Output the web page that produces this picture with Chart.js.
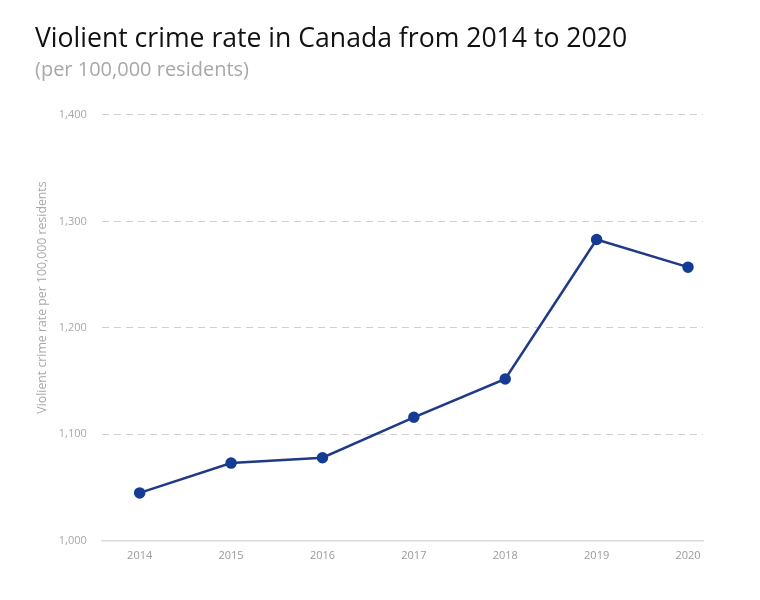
<!DOCTYPE html>
<html>
<head>
<meta charset="utf-8">
<script src="https://cdn.jsdelivr.net/npm/chart.js@4"></script>
<style>
html,body{margin:0;padding:0;background:#fff;}
#wrap{width:760px;height:600px;}
</style>
</head>
<body>
<div id="wrap"><canvas id="c" width="760" height="600"></canvas></div>
<script>
const years = [2014, 2015, 2016, 2017, 2018, 2019, 2020];
const crimeRate = [1045, 1073, 1078, 1116, 1152, 1283, 1257];
const yTicks = [1000, 1100, 1200, 1300, 1400];

const font = "'Open Sans', 'Noto Sans', sans-serif";
const yTitle = 'Violient crime rate per 100,000 residents';

new Chart(document.getElementById('c'), {
  type: 'line',
  data: {
    datasets: [{
      data: years.map((y, i) => ({x: y, y: crimeRate[i]})),
      borderColor: '#1f3b87',
      borderWidth: 2.5,
      pointRadius: 4.5,
      pointBackgroundColor: '#143c94',
      pointBorderColor: '#143c94',
      tension: 0
    }]
  },
  options: {
    responsive: false,
    animation: false,
    layout: {padding: {left: 35, right: 57, top: 23, bottom: 38}},
    plugins: {
      legend: {display: false},
      tooltip: {enabled: false},
      title: {
        display: true,
        text: 'Violient crime rate in Canada from 2014 to 2020',
        align: 'start',
        color: '#111',
        font: {family: font, size: 26.6, weight: 'normal'},
        padding: {top: 0, bottom: 0}
      },
      subtitle: {
        display: true,
        text: '(per 100,000 residents)',
        align: 'start',
        color: '#a8a8a8',
        font: {family: font, size: 20, weight: 'normal'},
        padding: {top: 3, bottom: 33}
      }
    },
    scales: {
      x: {
        type: 'linear',
        min: 2013.585,
        max: 2020.164,
        afterBuildTicks: (axis) => { axis.ticks = years.map(v => ({value: v})); },
        grid: {display: false},
        border: {display: true, color: '#dcdcdc', width: 1.5},
        ticks: {
          color: '#9a9a9a',
          font: {family: font, size: 11},
          padding: 0,
          callback: (v) => String(v)
        }
      },
      y: {
        min: yTicks[0],
        max: yTicks[yTicks.length - 1],
        afterBuildTicks: (axis) => { axis.ticks = yTicks.map(v => ({value: v})); },
        grid: {
          color: (ctx) => ctx.tick && ctx.tick.value === yTicks[0] ? 'rgba(0,0,0,0)' : '#cfcfcf',
          lineWidth: 1,
          drawTicks: false
        },
        border: {display: false, dash: [7, 5]},
        ticks: {
          color: '#a8a8a8',
          font: {family: font, size: 11},
          padding: 15
        },
        title: {
          display: true,
          text: ' '.repeat(19) + yTitle,
          color: '#a8a8a8',
          font: {family: font, size: 12.3},
          padding: {top: 0, bottom: -6}
        }
      }
    }
  }
});
</script>
</body>
</html>
